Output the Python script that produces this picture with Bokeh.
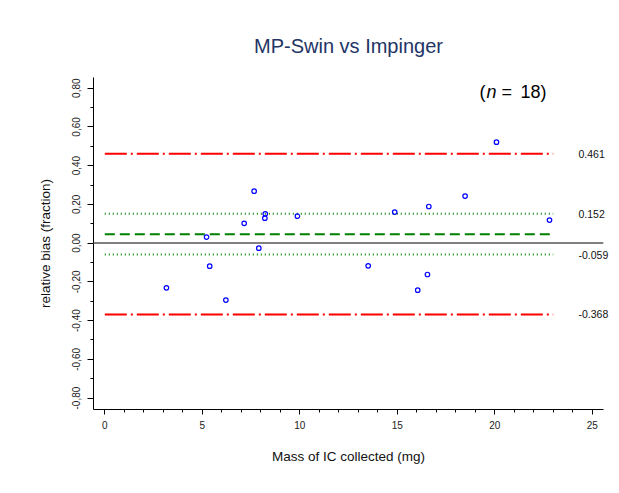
from bokeh.plotting import figure
from bokeh.models import (Range1d, FixedTicker, CustomJSTickFormatter, Span, Label,
                          LinearAxis, Title)
from bokeh.embed import file_html
from bokeh.resources import INLINE

# ---- data ----
mass_mg = [3.16, 5.22, 5.38, 6.21, 7.15, 7.66, 7.90, 8.21, 8.23, 9.88,
           13.51, 14.87, 16.05, 16.55, 16.62, 18.48, 20.09, 22.81]
rel_bias = [-0.231, 0.031, -0.119, -0.294, 0.102, 0.268, -0.026, 0.129, 0.151, 0.139,
            -0.117, 0.160, -0.243, -0.162, 0.189, 0.243, 0.521, 0.119]

mean_bias = 0.046
upper_sd = 0.152
lower_sd = -0.059
upper_loa = 0.461
lower_loa = -0.368
line_x = [0.0, 23.0]

limit_values = [upper_loa, upper_sd, lower_sd, lower_loa]

x_ticks = [0, 5, 10, 15, 20, 25]
x_minor = list(range(0, 26))
y_ticks = [-0.8, -0.6, -0.4, -0.2, 0.0, 0.2, 0.4, 0.6, 0.8]
y_minor = [-0.8, -0.7, -0.6, -0.5, -0.4, -0.3, -0.2, -0.1, 0.0,
           0.1, 0.2, 0.3, 0.4, 0.5, 0.6, 0.7, 0.8]

FONT = "Liberation Sans"

p = figure(width=619, height=493, output_backend="svg", toolbar_location=None,
           x_range=Range1d(-0.58, 25.58), y_range=Range1d(-0.859, 0.855),
           min_border_left=93, min_border_right=16, min_border_top=77, min_border_bottom=84)
p.outline_line_color = None
p.grid.visible = False
p.background_fill_color = "white"
p.border_fill_color = "white"

p.title.text = "MP-Swin vs Impinger"
p.title.text_font = FONT
p.title.text_font_size = "20px"
p.title.text_font_style = "normal"
p.title.text_color = "#233565"
p.title.align = "center"
# spacer between the title and the frame
p.add_layout(Title(text=" ", text_font_size="12px", standoff=0), "above")

# axes
for ax in (p.xaxis[0], p.yaxis[0]):
    ax.axis_line_color = "black"
    ax.axis_line_width = 1
    ax.major_tick_line_color = "black"
    ax.minor_tick_line_color = "black"
    ax.major_tick_in = 0
    ax.minor_tick_in = 0
    ax.major_label_text_font = FONT
    ax.major_label_text_font_size = "10px"
    ax.major_label_text_color = "#222222"
    ax.axis_label_text_font = FONT
    ax.axis_label_text_font_size = "13.5px"
    ax.axis_label_text_font_style = "normal"
    ax.axis_label_text_color = "#111111"

p.xaxis.ticker = FixedTicker(ticks=x_ticks, minor_ticks=x_minor)
p.xaxis.major_tick_out = 5
p.xaxis.minor_tick_out = 3
p.xaxis.major_label_standoff = 6
p.xaxis.axis_label = "Mass of IC collected (mg)"
p.xaxis.axis_label_standoff = 17

p.yaxis.ticker = FixedTicker(ticks=y_ticks, minor_ticks=y_minor)
p.yaxis.formatter = CustomJSTickFormatter(code="return tick.toFixed(2).replace('.', ',');")
p.yaxis.major_label_orientation = "vertical"
p.yaxis.major_tick_out = 6
p.yaxis.minor_tick_out = 3
p.yaxis.major_label_standoff = 7
p.yaxis.axis_label = "relative bias (fraction)"
p.yaxis.axis_label_standoff = 17

# right-side value labels of the limit lines
rax = LinearAxis(ticker=FixedTicker(ticks=limit_values, minor_ticks=[]),
                 formatter=CustomJSTickFormatter(code="return tick.toFixed(3);"),
                 axis_line_color=None, major_tick_line_color=None, minor_tick_line_color=None,
                 major_tick_out=0, major_tick_in=0, minor_tick_out=0, minor_tick_in=0,
                 major_label_standoff=-25, major_label_text_font=FONT,
                 major_label_text_font_size="10.5px", major_label_text_color="#111111")
p.add_layout(rax, "right")

# zero line
p.add_layout(Span(location=0, dimension="width", line_color="#808080", line_width=2))

# limit lines
p.line(line_x, [upper_loa, upper_loa], line_color="red", line_width=2, line_dash="22 4 2 4")
p.line(line_x, [lower_loa, lower_loa], line_color="red", line_width=2, line_dash="22 4 2 4")
p.line(line_x, [upper_sd, upper_sd], line_color="#008a00", line_width=2, line_dash="1 3")
p.line(line_x, [lower_sd, lower_sd], line_color="#008a00", line_width=2, line_dash="1 3")
p.line(line_x, [mean_bias, mean_bias], line_color="#008000", line_width=2, line_dash="10 5")

# points
p.scatter(mass_mg, rel_bias, marker="circle", size=4.5, fill_color=None,
          line_color="blue", line_width=1.2)

# (n = 18)
n_x, n_y = 19.22, 0.779
common = dict(x=n_x, y=n_y, text_baseline="middle", text_font=FONT,
              text_font_size="18px", text_color="black")
p.add_layout(Label(text="(", x_offset=0, **common))
p.add_layout(Label(text="n", x_offset=7, text_font_style="italic", **common))
p.add_layout(Label(text="=", x_offset=22, **common))
p.add_layout(Label(text="18)", x_offset=41, **common))

open("out.html", "w").write(file_html(p, INLINE))
